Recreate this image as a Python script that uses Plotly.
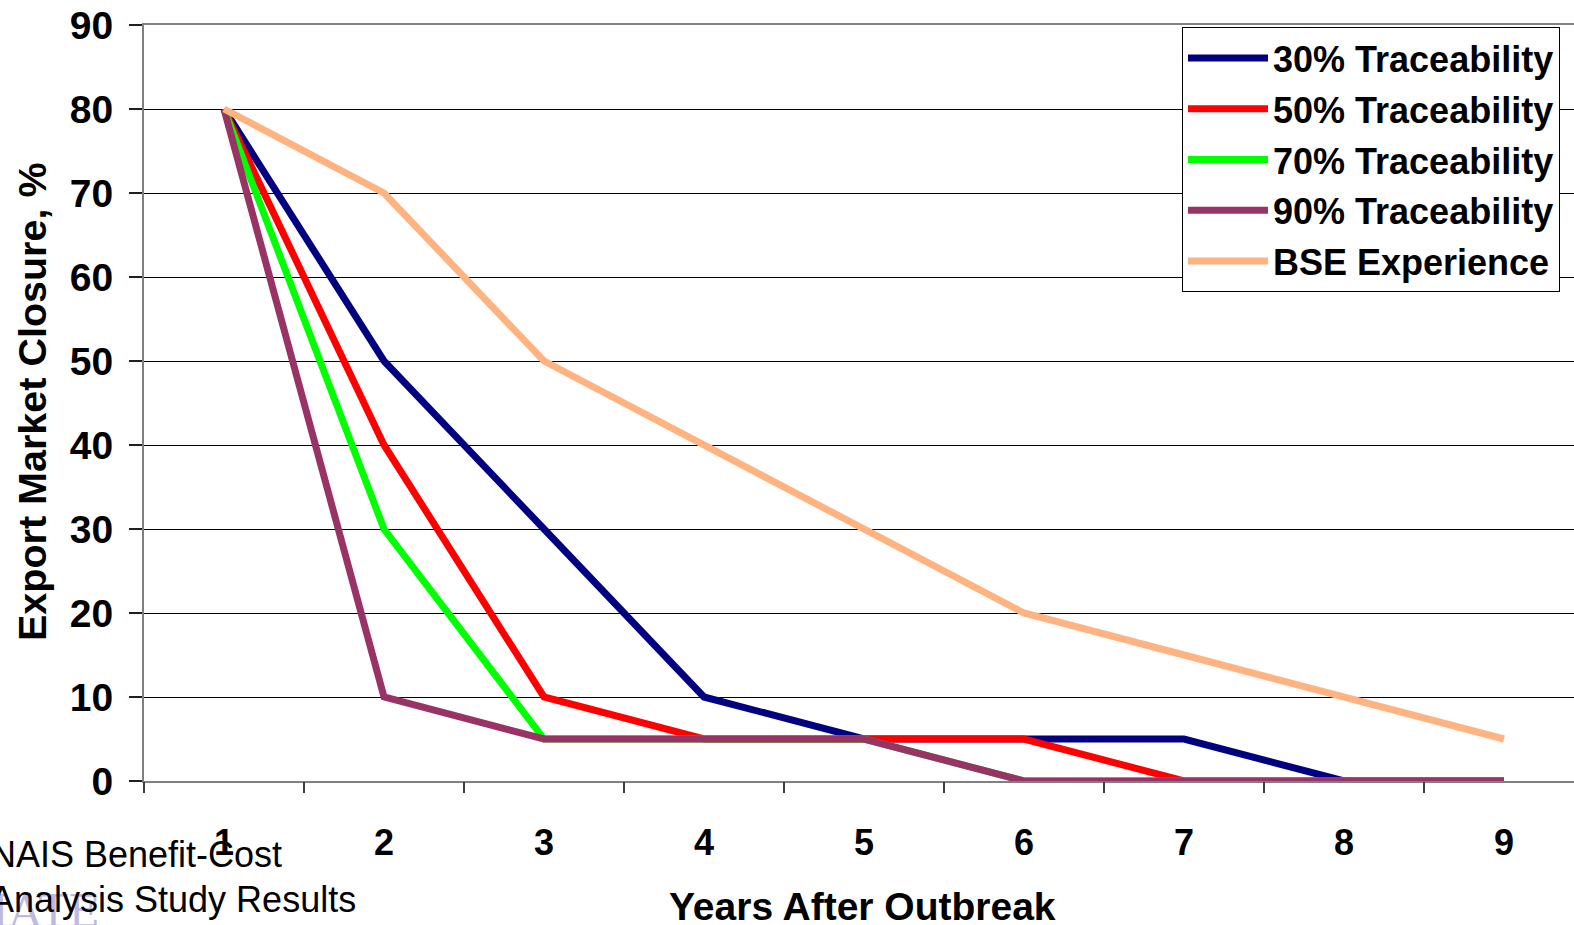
import plotly.graph_objects as go

years = [1, 2, 3, 4, 5, 6, 7, 8, 9]
year_labels = ["1", "2", "3", "4", "5", "6", "7", "8", "9"]
trace30 = [80, 50, 30, 10, 5, 5, 5, 0, 0]
trace50 = [80, 40, 10, 5, 5, 5, 0, 0, 0]
trace70 = [80, 30, 5, 5, 5, 0, 0, 0, 0]
trace90 = [80, 10, 5, 5, 5, 0, 0, 0, 0]
bse = [80, 70, 50, 40, 30, 20, 15, 10, 5]
y_ticks = [0, 10, 20, 30, 40, 50, 60, 70, 80, 90]

series = [
    ("30% Traceability", trace30, "#000080"),
    ("50% Traceability", trace50, "#FF0000"),
    ("70% Traceability", trace70, "#00FF00"),
    ("90% Traceability", trace90, "#993366"),
    ("BSE Experience", bse, "#FFB380"),
]

FONT = "Liberation Sans, Arial, sans-serif"
W, H = 1574, 925
L, R, T, B = 144, 0, 25, 144
plot_w = W - L - R
plot_h = H - T - B
cat_px = 160.0

fig = go.Figure()
for i, (name, vals, col) in enumerate(series):
    fig.add_trace(go.Scatter(
        x=years, y=vals, name=name, mode="lines", legendgroup=f"g{i}",
        line=dict(color=col, width=7),
    ))

xr = [0.5, 0.5 + plot_w / cat_px]

fig.update_layout(
    width=W, height=H,
    margin=dict(l=L, r=R, t=T, b=B, pad=0),
    paper_bgcolor="white", plot_bgcolor="white",
    font=dict(family=FONT, color="black"),
    showlegend=True,
    legend=dict(
        x=(1560 - L) / plot_w, y=(781 - 27) / plot_h,
        xanchor="right", yanchor="top",
        bgcolor="white", bordercolor="black", borderwidth=1,
        font=dict(family=FONT, size=36, color="black", weight="bold"),
        itemwidth=80,
        tracegroupgap=1,
        traceorder="grouped",
    ),
    xaxis=dict(
        range=xr, tickvals=years, ticktext=year_labels,
        ticks="", showgrid=False, zeroline=False,
        showline=True, linecolor="#808080", linewidth=2, mirror=True,
        tickfont=dict(family=FONT, size=36, color="black", weight="bold"),
        ticklabelstandoff=29,
    ),
    xaxis2=dict(
        range=xr, overlaying="x", side="bottom",
        tickvals=[0.5 + i for i in range(9)], showticklabels=False,
        ticks="outside", ticklen=11, tickwidth=1.5, tickcolor="#404040",
        showgrid=False, zeroline=False, showline=False,
    ),
    yaxis=dict(
        range=[0, 90], tickvals=y_ticks,
        ticks="outside", ticklen=13, tickwidth=1.5, tickcolor="#202020",
        showgrid=True, gridcolor="black", gridwidth=1.2,
        zeroline=False, showline=True, linecolor="#808080", linewidth=2,
        tickfont=dict(family=FONT, size=39, color="black", weight="bold"),
        ticklabelstandoff=8,
    ),
    annotations=[
        dict(text="<b>Years After Outbreak</b>", xref="paper", yref="paper",
             x=(862 - L) / plot_w, y=(781 - 906) / plot_h, xanchor="center", yanchor="middle",
             showarrow=False, font=dict(family=FONT, size=39, color="black")),
        dict(text="<b>Export Market Closure, %</b>", xref="paper", yref="paper",
             x=(32 - L) / plot_w, y=(781 - 402) / plot_h, xanchor="center", yanchor="middle",
             textangle=-90, showarrow=False, font=dict(family=FONT, size=39.5, color="black")),
        dict(text="IATE", xref="paper", yref="paper",
             x=(-10 - L) / plot_w, y=(781 - 884) / plot_h, xanchor="left", yanchor="top",
             showarrow=False, font=dict(family="DejaVu Serif, serif", size=44, color="rgba(110,95,190,0.45)")),
        dict(text="NAIS Benefit-Cost", xref="paper", yref="paper",
             x=(-12 - L) / plot_w, y=(781 - 854) / plot_h, xanchor="left", yanchor="middle",
             showarrow=False, font=dict(family=FONT, size=36, color="black")),
        dict(text="Analysis Study Results", xref="paper", yref="paper",
             x=(-12 - L) / plot_w, y=(781 - 899) / plot_h, xanchor="left", yanchor="middle",
             showarrow=False, font=dict(family=FONT, size=36, color="black")),
    ],
)
# an invisible point anchors xaxis2 so its boundary ticks render
fig.add_trace(go.Scatter(x=[years[0]], y=[bse[0]], xaxis="x2", mode="markers",
                         marker=dict(opacity=0), showlegend=False, hoverinfo="skip"))

fig.write_html("out.html")
